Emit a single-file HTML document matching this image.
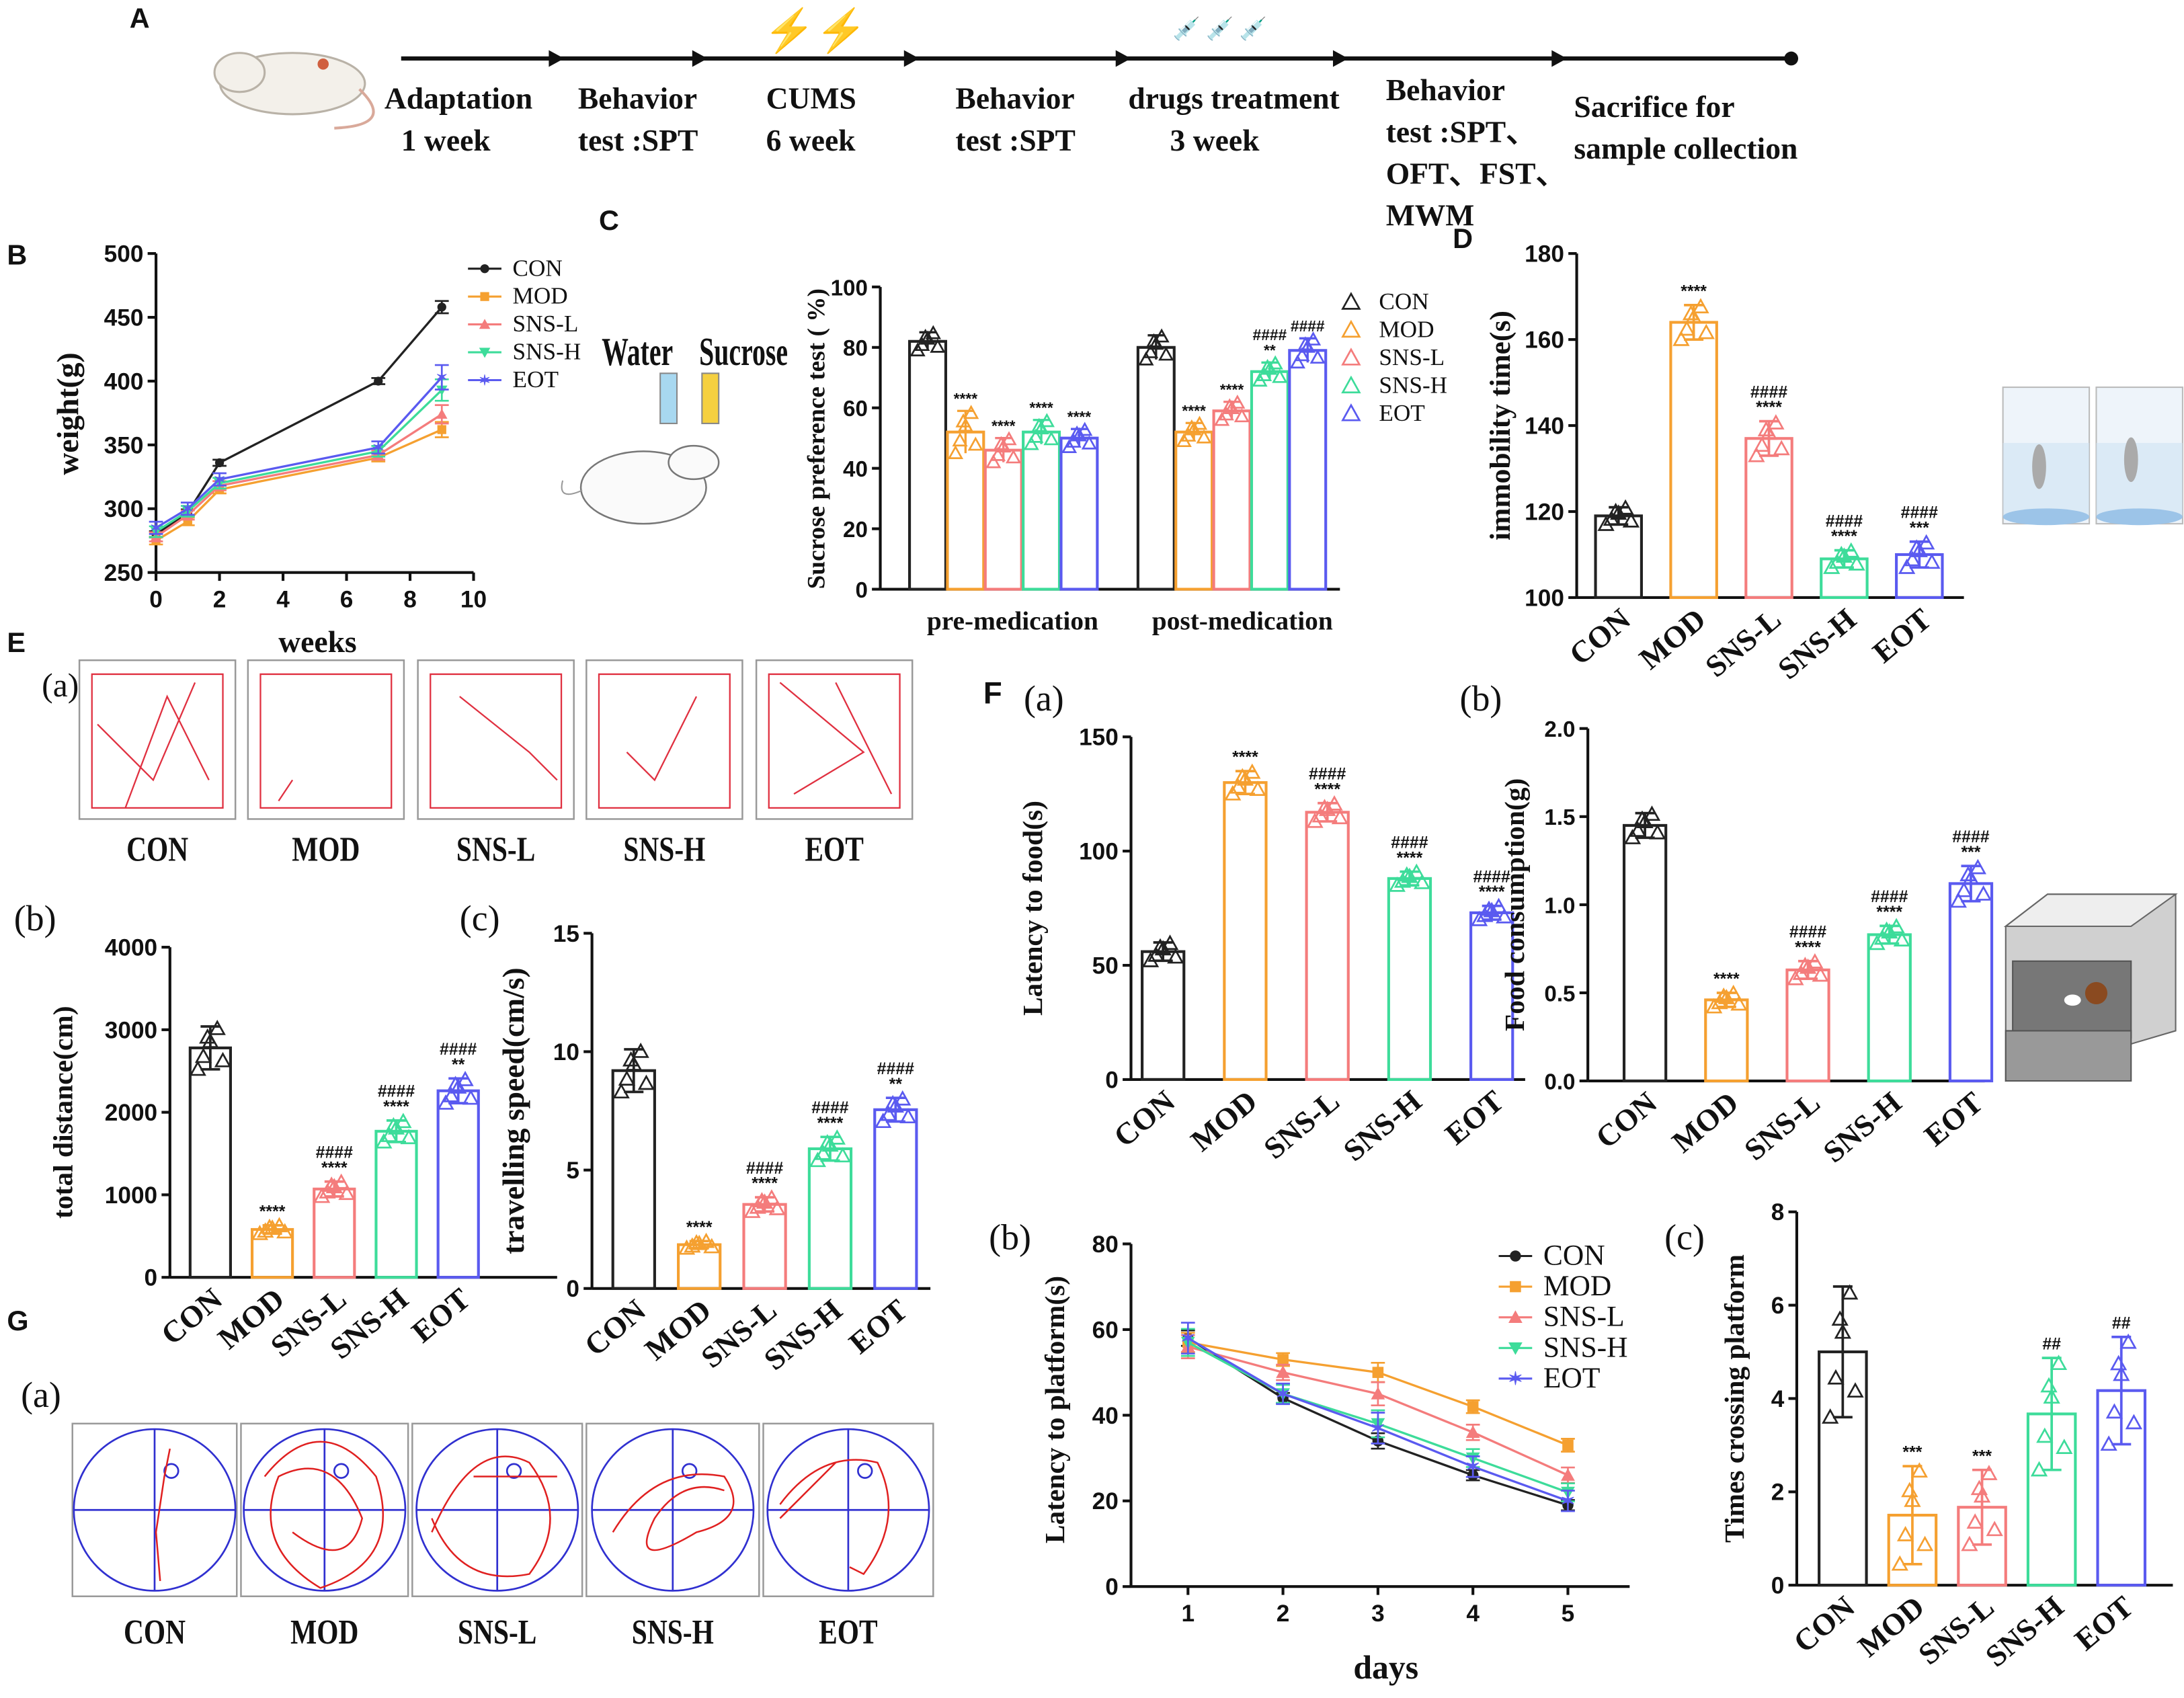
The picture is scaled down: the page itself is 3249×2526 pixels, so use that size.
<!DOCTYPE html>
<html><head><meta charset="utf-8"><style>
html,body{margin:0;padding:0;background:#fff;}
svg{display:block;}
text{font-family:"Liberation Serif",serif;font-weight:bold;fill:#111;}
.t{font-family:"Liberation Sans",sans-serif;font-weight:bold;}
.n{font-weight:normal;}
</style></head><body>
<svg id="fig" xmlns="http://www.w3.org/2000/svg" width="3249" height="2526" viewBox="0 0 1568 1219" preserveAspectRatio="none"></svg>
<script>
// ---------- data ----------
const groups=['CON','MOD','SNS-L','SNS-H','EOT'];
const colors=['#222222','#f5a030','#f47c7c','#3ddc9a','#5a5af0'];
// B weight
const bWeeks=[0,1,2,7,9];
const bCON=[280,297,336,400,458];
const bMOD=[275,290,315,340,362];
const bSNSL=[278,295,318,342,374];
const bSNSH=[282,298,320,345,393];
const bEOT=[285,300,323,348,403];
const bTicksY=[250,300,350,400,450,500];
const bTicksX=[0,2,4,6,8,10];
// C sucrose
const cPre=[82,52,46,52,50];
const cPost=[80,52,59,72,79];
const cPreErr=[3,7,4,4,3];
const cPostErr=[4,3,3,3,4];
const cTicks=[0,20,40,60,80,100];
const cPreStars=['','****','****','****','****'];
const cPostStars=['','****','****','####\n**','####'];
// D immobility
const dVals=[119,164,137,109,110];
const dErr=[2,4,4,2,3];
const dTicks=[100,120,140,160,180];
const dStars=['','****','####\n****','####\n****','####\n***'];
// E(b) distance
const ebVals=[2780,580,1070,1770,2260];
const ebErr=[260,50,90,130,150];
const ebTicks=[0,1000,2000,3000,4000];
const ebStars=['','****','####\n****','####\n****','####\n**'];
// E(c) speed
const ecVals=[9.2,1.85,3.55,5.9,7.55];
const ecErr=[0.9,0.15,0.3,0.5,0.5];
const ecTicks=[0,5,10,15];
const ecStars=['','****','####\n****','####\n****','####\n**'];
// F(a) latency
const faVals=[56,130,117,88,73];
const faErr=[4,5,4,3,3];
const faTicks=[0,50,100,150];
const faStars=['','****','####\n****','####\n****','####\n****'];
// F(b) food
const fbVals=[1.45,0.46,0.63,0.83,1.12];
const fbErr=[0.07,0.04,0.05,0.05,0.1];
const fbTicks=[0,0.5,1.0,1.5,2.0];
const fbStars=['','****','####\n****','####\n****','####\n***'];
// G(b) latency to platform
const gDays=[1,2,3,4,5];
const gCON=[58,44,34,26,19];
const gMOD=[57,53,50,42,33];
const gSNSL=[56,50,45,36,26];
const gSNSH=[57,45,38,30,22];
const gEOT=[58,45,37,28,20];
const gErr=[3,2,3,2,2];
const gTicksY=[0,20,40,60,80];
// G(c) crossings
const gcVals=[5,1.5,1.67,3.67,4.17];
const gcErr=[1.4,1.05,0.8,1.2,1.15];
const gcTicks=[0,2,4,6,8];
const gcStars=['','***','***','##','##'];

// ---------- helpers ----------
const NS='http://www.w3.org/2000/svg';
const svg=document.getElementById('fig');
function el(tag,attrs,name,parent){
  const e=document.createElementNS(NS,tag);
  for(const k in attrs) e.setAttribute(k,attrs[k]);
  
  
  (parent||svg).appendChild(e);return e;
}
function txt(x,y,s,size,name,extra){
  const a=Object.assign({x:x,y:y,'font-size':size},extra||{});
  const e=el('text',a,name);e.textContent=s;return e;
}
function tri(x,y,c,s,name){
  s=s||5;
  return el('polygon',{points:`${x},${y-s} ${x-s},${y+s*0.8} ${x+s},${y+s*0.8}`,fill:'none',stroke:c,'stroke-width':1.3},name);
}
const jx=[-9,-5,0,5,9,-2,3];
const jy=[-1,-0.4,0.3,0.9,-0.6,0.5,0.1];

function barChart(o){
  const ys=v=>o.y0-(v-o.ticks[0])/(o.ticks[o.ticks.length-1]-o.ticks[0])*(o.y0-o.y1);
  el('line',{x1:o.ax,y1:o.y1,x2:o.ax,y2:o.y0,stroke:'#111','stroke-width':2},o.id+'-y-axis');
  el('line',{x1:o.ax,y1:o.y0,x2:o.axEnd,y2:o.y0,stroke:'#111','stroke-width':2},o.id+'-x-axis');
  o.ticks.forEach(t=>{
    const y=ys(t);
    el('line',{x1:o.ax-6,y1:y,x2:o.ax,y2:y,stroke:'#111','stroke-width':2},o.id+'-y-tick');
    txt(o.ax-9,y+6,o.fmt?o.fmt(t):String(t),o.tsize||17,o.id+'-y-tick-label',{'text-anchor':'end',class:'t'});
  });
  const yt=el('text',{x:0,y:0,'font-size':o.titleSize||20,'text-anchor':'middle',transform:`translate(${o.titleX},${(o.y0+o.y1)/2}) rotate(-90)`},o.id+'-y-axis-title');
  yt.textContent=o.title;
  o.vals.forEach((v,i)=>{
    const cx=o.c0+i*o.step, c=colors[i], top=ys(v);
    el('rect',{x:cx-o.w/2,y:top,width:o.w,height:o.y0-top,fill:'none',stroke:c,'stroke-width':2},o.id+'-bar-'+groups[i].toLowerCase());
    const e1=ys(v+o.err[i]), e2=ys(v-o.err[i]);
    el('line',{x1:cx,y1:e1,x2:cx,y2:e2,stroke:c,'stroke-width':1.8},o.id+'-error-bar');
    el('line',{x1:cx-7,y1:e1,x2:cx+7,y2:e1,stroke:c,'stroke-width':1.8},o.id+'-error-cap');
    el('line',{x1:cx-7,y1:e2,x2:cx+7,y2:e2,stroke:c,'stroke-width':1.8},o.id+'-error-cap');
    for(let k=0;k<6;k++) tri(cx+jx[k],ys(v+jy[k]*o.err[i]),c,5,o.id+'-point');
    if(o.stars&&o.stars[i]){
      const lines=o.stars[i].split('\n');
      lines.forEach((s,k)=>txt(cx,e1-6-(lines.length-1-k)*11,s,12,o.id+'-significance',{'text-anchor':'middle',class:'t'}));
    }
    if(o.cats){
      txt(0,0,groups[i],o.catSize||22,o.id+'-x-label',{'text-anchor':'end',transform:`translate(${cx+10},${o.y0+18}) rotate(-40)`});
    }
  });
}

function lineChart(o){
  const xs=v=>o.x0+(v-o.xmin)/(o.xmax-o.xmin)*(o.x1-o.x0);
  const ys=v=>o.y0-(v-o.ymin)/(o.ymax-o.ymin)*(o.y0-o.y1);
  el('line',{x1:o.x0,y1:o.y1,x2:o.x0,y2:o.y0,stroke:'#111','stroke-width':2},o.id+'-y-axis');
  el('line',{x1:o.x0,y1:o.y0,x2:o.x1,y2:o.y0,stroke:'#111','stroke-width':2},o.id+'-x-axis');
  o.ticksY.forEach(t=>{const y=ys(t);
    el('line',{x1:o.x0-6,y1:y,x2:o.x0,y2:y,stroke:'#111','stroke-width':2},o.id+'-y-tick');
    txt(o.x0-9,y+6,String(t),17,o.id+'-y-tick-label',{'text-anchor':'end',class:'t'});});
  o.ticksX.forEach(t=>{const x=xs(t);
    el('line',{x1:x,y1:o.y0,x2:x,y2:o.y0+6,stroke:'#111','stroke-width':2},o.id+'-x-tick');
    txt(x,o.y0+25,String(t),17,o.id+'-x-tick-label',{'text-anchor':'middle',class:'t'});});
  o.series.forEach((s,i)=>{
    const c=o.cols[i];
    const pts=o.xv.map((x,k)=>xs(x)+','+ys(s[k])).join(' ');
    el('polyline',{points:pts,fill:'none',stroke:c,'stroke-width':1.6},o.id+'-line-'+groups[i].toLowerCase());
    s.forEach((v,k)=>{
      const x=xs(o.xv[k]),y=ys(v);
      if(o.err){const e=o.err[k]*(0.6+0.15*i);
        el('line',{x1:x,y1:ys(v+e),x2:x,y2:ys(v-e),stroke:c,'stroke-width':1.3},o.id+'-error-bar');
        el('line',{x1:x-5,y1:ys(v+e),x2:x+5,y2:ys(v+e),stroke:c,'stroke-width':1.3},o.id+'-error-cap');
        el('line',{x1:x-5,y1:ys(v-e),x2:x+5,y2:ys(v-e),stroke:c,'stroke-width':1.3},o.id+'-error-cap');}
      marker(i,x,y,o.ms,o.id+'-point');
    });
  });
}
function marker(i,x,y,s,name){
  const c=colors[i];
  if(i===0) el('circle',{cx:x,cy:y,r:s*0.8,fill:c},name);
  else if(i===1) el('rect',{x:x-s*0.8,y:y-s*0.8,width:s*1.6,height:s*1.6,fill:c},name);
  else if(i===2) el('polygon',{points:`${x},${y-s} ${x-s},${y+s*0.8} ${x+s},${y+s*0.8}`,fill:c},name);
  else if(i===3) el('polygon',{points:`${x},${y+s} ${x-s},${y-s*0.8} ${x+s},${y-s*0.8}`,fill:c},name);
  else txt(x,y+s*0.9,'✶',s*2.6,name,{'text-anchor':'middle',fill:c,style:'fill:'+c});
}
function legend(x,y,dy,size,ms,id,triMode){
  groups.forEach((g,i)=>{
    const yy=y+i*dy;
    if(triMode) tri(x,yy-size*0.3,colors[i],6,id+'-legend-marker');
    else{
      el('line',{x1:x-12,y1:yy-size*0.3,x2:x+12,y2:yy-size*0.3,stroke:colors[i],'stroke-width':1.5},id+'-legend-line');
      marker(i,x,yy-size*0.3,ms,id+'-legend-marker');
    }
    txt(x+20,yy,g,size,id+'-legend-entry',{class:'n'});
  });
}

// ---------- Panel A ----------
txt(93,20,'A',20,'panel-a-label',{class:'t'});
el('line',{x1:288,y1:42,x2:1285,y2:42,stroke:'#111','stroke-width':3},'timeline-line');
el('circle',{cx:1286,cy:42,r:5,fill:'#111'},'timeline-end-dot');
[405,508,660,812,968,1125].forEach(x=>el('polygon',{points:`${x},42 ${x-11},36 ${x-11},48`,fill:'#111'},'timeline-arrow'));
el('ellipse',{cx:210,cy:60,rx:52,ry:22,fill:'#f3f0ea',stroke:'#b9b2a7','stroke-width':1.5},'rat-illustration-body');
el('ellipse',{cx:172,cy:52,rx:18,ry:14,fill:'#f3f0ea',stroke:'#b9b2a7','stroke-width':1.5},'rat-illustration-head');
el('path',{d:'M258,64 Q285,90 240,92',fill:'none',stroke:'#d9a99a','stroke-width':2},'rat-illustration-tail');
el('circle',{cx:232,cy:46,r:4,fill:'#d06040'},'rat-illustration-spot');
txt(548,32,'⚡⚡',30,'cums-lightning-icon',{fill:'#f2d030',style:'fill:#f2d030'});
txt(842,26,'💉 💉 💉',16,'drug-syringe-icon',{fill:'#7c9',style:'fill:#7c9'});
const aLab=[[276,78,'Adaptation'],[288,108,' 1 week'],[415,78,'Behavior'],[415,108,'test :SPT'],[550,78,'CUMS'],[550,108,'6 week'],[686,78,'Behavior'],[686,108,'test :SPT'],[810,78,'drugs treatment'],[840,108,'3 week'],[995,72,'Behavior'],[995,102,'test :SPT、'],[995,132,'OFT、FST、'],[995,162,'MWM'],[1130,84,'Sacrifice for'],[1130,114,'sample collection']];
aLab.forEach(a=>txt(a[0],a[1],a[2],22,'timeline-step-label'));

// ---------- Panel B ----------
txt(5,190,'B',20,'panel-b-label',{class:'t'});
lineChart({id:'b',x0:112,x1:340,y0:411,y1:182,xmin:0,xmax:10,ymin:250,ymax:500,ticksY:bTicksY,ticksX:bTicksX,xv:bWeeks,series:[bCON,bMOD,bSNSL,bSNSH,bEOT],cols:colors,ms:4,err:[4,4,4,4,8]});
txt(0,0,'weight(g)',22,'b-y-axis-title',{'text-anchor':'middle',transform:'translate(56,297) rotate(-90)'});
txt(228,468,'weeks',22,'b-x-axis-title',{'text-anchor':'middle'});
legend(348,198,20,17,4,'b',false);

// ---------- Panel C ----------
txt(430,165,'C',20,'panel-c-label',{class:'t'});
function cChart(){
  const vals=cPre.concat(cPost), errs=cPreErr.concat(cPostErr), stars=cPreStars.concat(cPostStars);
  const ys=v=>423-v/100*217;
  el('line',{x1:632,y1:206,x2:632,y2:423,stroke:'#111','stroke-width':2},'c-y-axis');
  el('line',{x1:632,y1:423,x2:962,y2:423,stroke:'#111','stroke-width':2},'c-x-axis');
  cTicks.forEach(t=>{const y=ys(t);el('line',{x1:626,y1:y,x2:632,y2:y,stroke:'#111','stroke-width':2},'c-y-tick');
    txt(623,y+6,String(t),16,'c-y-tick-label',{'text-anchor':'end',class:'t'});});
  vals.forEach((v,j)=>{
    const i=j%5, g=Math.floor(j/5), cx=(g?830:666)+i*27.2, c=colors[i], top=ys(v);
    el('rect',{x:cx-13,y:top,width:26,height:423-top,fill:'none',stroke:c,'stroke-width':2},'c-bar-'+groups[i].toLowerCase());
    el('line',{x1:cx,y1:ys(v+errs[j]),x2:cx,y2:ys(v-errs[j]),stroke:c,'stroke-width':1.6},'c-error-bar');
    el('line',{x1:cx-6,y1:ys(v+errs[j]),x2:cx+6,y2:ys(v+errs[j]),stroke:c,'stroke-width':1.6},'c-error-cap');
    for(let k=0;k<6;k++) tri(cx+jx[k]*0.8,ys(v+jy[k]*errs[j]),c,4.5,'c-point');
    if(stars[j]){const L=stars[j].split('\n');L.forEach((s,k)=>txt(cx,ys(v+errs[j])-5-(L.length-1-k)*11,s,11,'c-significance',{'text-anchor':'middle',class:'t'}));}
  });
  txt(727,452,'pre-medication',19,'c-x-label',{'text-anchor':'middle'});
  txt(892,452,'post-medication',19,'c-x-label',{'text-anchor':'middle'});
  txt(0,0,'Sucrose preference test ( %)',18,'c-y-axis-title',{'text-anchor':'middle',transform:'translate(592,315) rotate(-90)'});
}
cChart();
legend(970,222,20,17,0,'c',true);
txt(432,262,'Water',24,'c-illustration-label-water',{transform:'translate(432,262) scale(0.8,1.2) translate(-432,-262)'});
txt(502,262,'Sucrose',24,'c-illustration-label-sucrose',{transform:'translate(502,262) scale(0.8,1.2) translate(-502,-262)'});
el('rect',{x:474,y:268,width:12,height:36,fill:'#a8d8f0',stroke:'#888'},'water-bottle');
el('rect',{x:504,y:268,width:12,height:36,fill:'#f5d040',stroke:'#888'},'sucrose-bottle');
el('ellipse',{cx:462,cy:350,rx:45,ry:26,fill:'#fafafa',stroke:'#777','stroke-width':1.2},'c-rat-illustration');
el('ellipse',{cx:498,cy:332,rx:18,ry:12,fill:'#fafafa',stroke:'#777','stroke-width':1.2},'c-rat-head');
el('path',{d:'M418,352 Q400,360 404,345',fill:'none',stroke:'#999'},'c-rat-tail');

// ---------- Panel D ----------
txt(1043,178,'D',20,'panel-d-label',{class:'t'});
barChart({id:'d',ax:1132,axEnd:1410,y0:429,y1:182,ticks:dTicks,vals:dVals,err:dErr,stars:dStars,c0:1162,step:54,w:33,title:'immobility time(s)',titleX:1084,cats:true,titleSize:21});
el('rect',{x:1438,y:278,width:62,height:98,fill:'#eef4fa',stroke:'#bbb'},'fst-cylinder-left');
el('rect',{x:1505,y:278,width:62,height:98,fill:'#eef4fa',stroke:'#bbb'},'fst-cylinder-right');
el('rect',{x:1438,y:318,width:62,height:53,fill:'#cfe2f3',opacity:0.6},'fst-water-body-left');
el('rect',{x:1505,y:318,width:62,height:53,fill:'#cfe2f3',opacity:0.6},'fst-water-body-right');
el('ellipse',{cx:1469,cy:371,rx:31,ry:6,fill:'#9cc4e8'},'fst-water-left');
el('ellipse',{cx:1536,cy:371,rx:31,ry:6,fill:'#9cc4e8'},'fst-water-right');
el('ellipse',{cx:1464,cy:335,rx:5,ry:16,fill:'#aaa'},'fst-mouse-left');
el('ellipse',{cx:1530,cy:330,rx:5,ry:16,fill:'#aaa'},'fst-mouse-right');

// ---------- Panel E ----------
txt(5,468,'E',20,'panel-e-label',{class:'t'});
txt(30,500,'(a)',24,'e-a-label',{class:'n'});
const eBoxes=[57,178,300,421,543];
const ePaths=['M66,484 L160,484 L160,580 L66,580 Z M70,520 L110,560 L140,490 M90,580 L120,500 L150,560',
 'M187,484 L281,484 L281,580 L187,580 Z M200,575 L210,560',
 'M309,484 L403,484 L403,580 L309,580 Z M330,500 L380,540 L400,560',
 'M430,484 L524,484 L524,580 L430,580 Z M450,540 L470,560 L500,500',
 'M552,484 L646,484 L646,580 L552,580 Z M560,490 L620,540 L570,570 M600,490 L640,570'];
eBoxes.forEach((x,i)=>{
  el('rect',{x:x,y:474,width:112,height:114,fill:'#fff',stroke:'#999','stroke-width':1.2},'oft-box-'+groups[i].toLowerCase());
  el('path',{d:ePaths[i],fill:'none',stroke:'#e03040','stroke-width':1.1},'oft-trajectory-'+groups[i].toLowerCase());
  txt(x+56,618,groups[i],25,'oft-label',{'text-anchor':'middle',transform:`translate(${x+56},618) scale(0.8,1) translate(${-(x+56)},-618)`});
});
txt(10,668,'(b)',26,'e-b-label',{class:'n'});
txt(330,668,'(c)',26,'e-c-label',{class:'n'});
barChart({id:'eb',ax:122,axEnd:400,y0:917,y1:680,ticks:ebTicks,vals:ebVals,err:ebErr,stars:ebStars,c0:151,step:44.5,w:29,title:'total distance(cm)',titleX:52,cats:true});
barChart({id:'ec',ax:425,axEnd:668,y0:925,y1:670,ticks:ecTicks,vals:ecVals,err:ecErr,stars:ecStars,c0:455,step:47,w:30,title:'travelling speed(cm/s)',titleX:376,cats:true,titleSize:22});

// ---------- Panel F ----------
txt(706,505,'F',22,'panel-f-label',{class:'t'});
txt(735,510,'(a)',26,'f-a-label',{class:'n'});
txt(1048,510,'(b)',26,'f-b-label',{class:'n'});
barChart({id:'fa',ax:812,axEnd:1095,y0:775,y1:529,ticks:faTicks,vals:faVals,err:faErr,stars:faStars,c0:835,step:59,w:30,title:'Latency to food(s)',titleX:748,cats:true});
barChart({id:'fb',ax:1140,axEnd:1425,y0:776,y1:523,ticks:fbTicks,vals:fbVals,err:fbErr,stars:fbStars,c0:1181,step:58.5,w:30,title:'Food consumption(g)',titleX:1094,tsize:16,cats:true,fmt:t=>t.toFixed(1)});
el('polygon',{points:'1440,665 1470,642 1562,642 1562,740 1440,776',fill:'#d0d0d0',stroke:'#666'},'nsf-box-back');
el('polygon',{points:'1440,665 1530,665 1562,642 1470,642',fill:'#eee',stroke:'#666'},'nsf-box-rim');
el('polygon',{points:'1445,690 1530,690 1530,745 1445,745',fill:'#777',stroke:'#555'},'nsf-box-floor');
el('polygon',{points:'1440,740 1530,740 1530,776 1440,776',fill:'#999',stroke:'#555'},'nsf-box-front');
el('circle',{cx:1505,cy:713,r:8,fill:'#8a4a20'},'nsf-food-pellet');
el('ellipse',{cx:1488,cy:718,rx:6,ry:4,fill:'#fff'},'nsf-mouse');

// ---------- Panel G ----------
txt(5,955,'G',20,'panel-g-label',{class:'t'});
txt(15,1010,'(a)',26,'g-a-label',{class:'n'});
const gBoxes=[[52,118],[173,120],[296,122],[421,124],[548,122]];
const gPaths=['M115,1135 L112,1100 L118,1060 L122,1040',
 'M190,1060 Q230,1010 270,1060 Q290,1120 230,1140 Q180,1110 200,1060 Q240,1040 260,1090 Q250,1130 210,1100',
 'M310,1100 Q340,1030 380,1050 Q410,1090 380,1130 Q330,1140 310,1090 M340,1060 L400,1060',
 'M440,1100 Q470,1050 520,1060 Q540,1090 500,1100 Q450,1130 470,1090 Q490,1060 520,1070',
 'M560,1080 Q590,1040 630,1050 Q650,1090 620,1130 L610,1125 M600,1050 L560,1090'];
gBoxes.forEach((b,i)=>{
  const x=b[0],w=b[1],cx=x+w/2,cy=1084;
  el('rect',{x:x,y:1022,width:w,height:124,fill:'#fff',stroke:'#999','stroke-width':1.2},'mwm-box-'+groups[i].toLowerCase());
  el('circle',{cx:cx,cy:cy,r:58,fill:'none',stroke:'#3030d0','stroke-width':1.3},'mwm-pool');
  el('line',{x1:cx-58,y1:cy,x2:cx+58,y2:cy,stroke:'#3030d0','stroke-width':1.3},'mwm-axis-h');
  el('line',{x1:cx,y1:cy-58,x2:cx,y2:cy+58,stroke:'#3030d0','stroke-width':1.3},'mwm-axis-v');
  el('circle',{cx:cx+12,cy:1056,r:5,fill:'none',stroke:'#3030d0','stroke-width':1.3},'mwm-platform');
  el('path',{d:gPaths[i],fill:'none',stroke:'#e02020','stroke-width':1.2},'mwm-trajectory-'+groups[i].toLowerCase());
  txt(cx,1180,groups[i],25,'mwm-label',{'text-anchor':'middle',transform:`translate(${cx},1180) scale(0.8,1) translate(${-cx},-1180)`});
});
txt(710,897,'(b)',26,'g-b-label',{class:'n'});
lineChart({id:'gb',x0:812,x1:1170,y0:1139,y1:893,xmin:0.4,xmax:5.65,ymin:0,ymax:80,ticksY:gTicksY,ticksX:gDays,xv:gDays,series:[gCON,gMOD,gSNSL,gSNSH,gEOT],cols:colors,ms:5,err:gErr});
txt(0,0,'Latency to platform(s)',20,'gb-y-axis-title',{'text-anchor':'middle',transform:'translate(764,1012) rotate(-90)'});
txt(995,1205,'days',24,'gb-x-axis-title',{'text-anchor':'middle'});
legend(1088,908,22,21,5,'gb',false);
txt(1195,897,'(c)',26,'g-c-label',{class:'n'});
barChart({id:'gc',ax:1290,axEnd:1560,y0:1138,y1:870,ticks:gcTicks,vals:gcVals,err:gcErr,stars:gcStars,c0:1323,step:50,w:34,title:'Times crossing platform',titleX:1252,cats:true});
</script>
</body></html>
